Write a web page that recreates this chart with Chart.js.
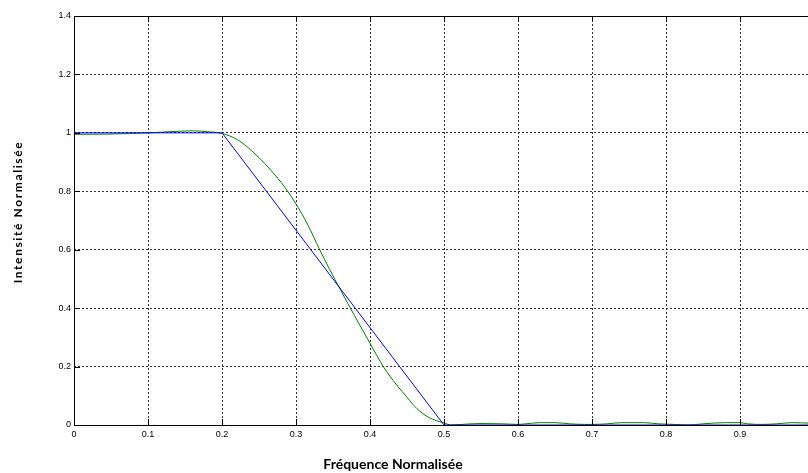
<!DOCTYPE html>
<html>
<head>
<meta charset="utf-8">
<script src="https://cdn.jsdelivr.net/npm/chart.js@4/dist/chart.umd.min.js"></script>
<style>
  html, body { margin: 0; padding: 0; background: #fff; overflow: hidden; }
  #wrap { width: 808px; height: 473px; overflow: hidden; }
</style>
</head>
<body>
<div id="wrap"><canvas id="chart" width="830" height="473"></canvas></div>
<script>
/* =========================
   DATA
========================= */
// ideal template (blue)
const idealX = [0, 0.2, 0.5, 1.0];
const idealY = [1, 1, 0, 0];

// measured response (green)
const mesX = [0, 0.05, 0.1, 0.13, 0.16, 0.18, 0.2, 0.22, 0.234, 0.25, 0.265, 0.28, 0.299, 0.316,
  0.332, 0.345, 0.36, 0.38, 0.4, 0.418, 0.436, 0.45, 0.463, 0.48, 0.499, 0.51, 0.53, 0.55, 0.58,
  0.6, 0.61, 0.63, 0.65, 0.67, 0.69, 0.7, 0.72, 0.74, 0.77, 0.79, 0.81, 0.83, 0.85, 0.88, 0.9,
  0.91, 0.93, 0.95, 0.97, 1.0];
const mesY = [0.995, 0.996, 1.0, 1.004, 1.007, 1.004, 0.998, 0.978, 0.952, 0.915, 0.875, 0.83, 0.761, 0.685,
  0.600, 0.535, 0.463, 0.37, 0.28, 0.2, 0.137, 0.095, 0.057, 0.025, 0.008, 0.0, 0.003, 0.005, 0.004,
  0.002, 0.004, 0.008, 0.008, 0.004, 0.002, 0.002, 0.004, 0.008, 0.008, 0.004, 0.002, 0.0, 0.004, 0.008, 0.008,
  0.004, 0.002, 0.004, 0.008, 0.006];

const xTitle = "Fréquence Normalisée";
const yTitle = "Intensité Normalisée";

const toPoints = (xs, ys) => xs.map((x, i) => ({ x: x, y: ys[i] }));

/* =========================
   BOX + INNER TICKS + TITLES
========================= */
const matlabAxes = {
  id: "matlabAxes",
  afterDraw(chart) {
    const { ctx, chartArea: a, scales } = chart;
    ctx.save();
    ctx.strokeStyle = "#000";
    ctx.lineWidth = 1;
    ctx.setLineDash([]);
    ctx.strokeRect(a.left + 0.5, a.top + 0.5, a.right - a.left, a.bottom - a.top);

    // short solid ticks pointing inward
    ctx.beginPath();
    scales.x.ticks.forEach(t => {
      const px = Math.round(scales.x.getPixelForValue(t.value)) + 0.5;
      ctx.moveTo(px, a.bottom); ctx.lineTo(px, a.bottom - 6);
      ctx.moveTo(px, a.top); ctx.lineTo(px, a.top + 6);
    });
    scales.y.ticks.forEach(t => {
      const py = Math.round(scales.y.getPixelForValue(t.value)) + 0.5;
      ctx.moveTo(a.left, py); ctx.lineTo(a.left + 6, py);
      ctx.moveTo(a.right, py); ctx.lineTo(a.right - 6, py);
    });
    ctx.stroke();

    // axis titles
    ctx.fillStyle = "#000";
    ctx.font = "bold 14px Lato, 'Open Sans', sans-serif";
    ctx.textAlign = "center";
    ctx.textBaseline = "alphabetic";
    ctx.fillText(xTitle, 393, 469);

    ctx.translate(22, 212);
    ctx.rotate(-Math.PI / 2);
    ctx.font = "bold 12px Lato, 'Open Sans', sans-serif";
    ctx.letterSpacing = "1.6px";
    ctx.fillText(yTitle, 0, 0);
    ctx.restore();
  }
};

/* =========================
   CHART
========================= */
const tickFont = { family: "'Liberation Sans Narrow', 'Liberation Sans', Arial, sans-serif", size: 9 };
const fmt = v => String(+v.toFixed(1));

const chart = new Chart(document.getElementById("chart"), {
  type: "line",
  data: {
    datasets: [
      {
        label: "gabarit",
        data: toPoints(idealX, idealY),
        borderColor: "#0000ff",
        borderWidth: 1,
        pointRadius: 0,
        tension: 0
      },
      {
        label: "mesure",
        data: toPoints(mesX, mesY),
        borderColor: "#008000",
        borderWidth: 1,
        pointRadius: 0,
        cubicInterpolationMode: "monotone"
      }
    ]
  },
  options: {
    responsive: false,
    animation: false,
    layout: { padding: { top: 16, right: 16, left: 0, bottom: 0 } },
    plugins: { legend: { display: false }, tooltip: { enabled: false } },
    scales: {
      x: {
        type: "linear",
        min: 0,
        max: 1,
        afterFit: s => { s.height = 48; },
        ticks: { stepSize: 0.1, color: "#000", font: tickFont, padding: 4, maxRotation: 0, callback: fmt },
        grid: { color: "#333", drawTicks: false },
        border: { display: false, dash: [2, 2] }
      },
      y: {
        min: 0,
        max: 1.4,
        afterFit: s => { s.width = 74; },
        ticks: { stepSize: 0.2, color: "#000", font: tickFont, padding: 3, callback: fmt },
        grid: { color: "#333", drawTicks: false },
        border: { display: false, dash: [2, 2] }
      }
    }
  },
  plugins: [matlabAxes]
});
</script>
</body>
</html>
